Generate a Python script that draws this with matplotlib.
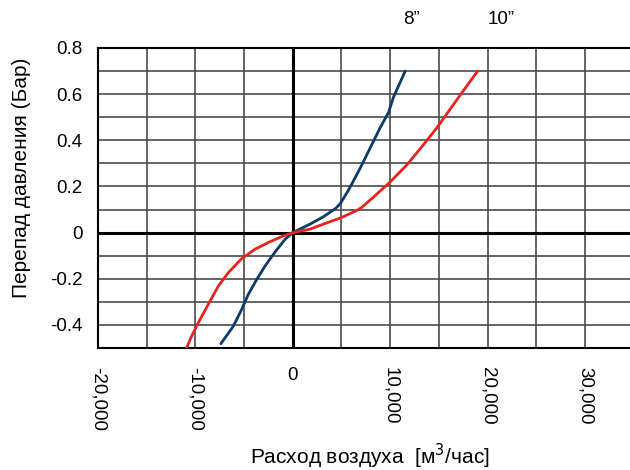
import numpy as np
import matplotlib.pyplot as plt

plt.rcParams['font.family'] = ['Liberation Sans', 'DejaVu Sans']

# 8" curve (blue)
flow_8 = [-7380, -6110, -5250, -4570, -3700, -2850, -1820, -790, 0,
          1780, 3150, 4350, 4870, 5720, 6920, 7950, 8980, 9840, 10350, 10970, 11550]
dp_8 = [-0.481, -0.406, -0.333, -0.268, -0.203, -0.145, -0.084, -0.029, 0.0,
        0.037, 0.069, 0.103, 0.125, 0.184, 0.279, 0.367, 0.455, 0.521, 0.588, 0.646, 0.70]

# 10" curve (red)
flow_10 = [-11010, -10390, -9710, -8680, -7650, -6630, -5250, -3880, -2510, -1130, 0,
           1780, 3150, 4870, 6580, 7100, 8290, 10010, 11730, 13440, 14810, 16180, 17550, 18990]
dp_10 = [-0.51, -0.449, -0.391, -0.311, -0.232, -0.174, -0.113, -0.072, -0.043, -0.017, 0.0,
         0.015, 0.037, 0.063, 0.096, 0.110, 0.154, 0.22, 0.294, 0.382, 0.455, 0.536, 0.617, 0.70]

x_ticks = [-20000, -10000, 0, 10000, 20000, 30000]
x_labels = ['-20,000', '-10,000', '0', '10,000', '20,000', '30,000']
y_ticks = [-0.4, -0.2, 0, 0.2, 0.4, 0.6, 0.8]
y_labels = ['-0.4', '-0.2', '0', '0.2', '0.4', '0.6', '0.8']

fig = plt.figure(figsize=(6.3, 4.7), dpi=100)
ax = fig.add_axes([98 / 630, 1 - 348 / 470, 532 / 630, 300 / 470])

ax.set_xlim(-20000, 34630)
ax.set_ylim(-0.5, 0.8)

# grid
for gx in np.arange(-15000, 35000, 5000):
    if gx != 0:
        ax.axvline(gx, color='#4a4a4a', lw=1.2, zorder=1)
for gy in np.arange(-0.4, 0.8, 0.1):
    if abs(gy) > 1e-9:
        ax.axhline(gy, color='#4a4a4a', lw=1.2, zorder=1)
ax.axvline(0, color='black', lw=2.2, zorder=2)
ax.axhline(0, color='black', lw=2.2, zorder=2)

ax.plot(flow_8, dp_8, color='#0b3a6b', lw=2.0, zorder=3,
        solid_capstyle='round', solid_joinstyle='round')
ax.plot(flow_10, dp_10, color='#e8231f', lw=2.0, zorder=3,
        solid_capstyle='round', solid_joinstyle='round')

for s in ['top', 'left', 'bottom']:
    ax.spines[s].set_linewidth(1.5)
    ax.spines[s].set_color('black')
ax.spines['right'].set_visible(False)

ax.set_yticks(y_ticks)
ax.set_yticklabels(y_labels, fontsize=13.5)
ax.set_xticks(x_ticks)
ax.set_xticklabels(x_labels, fontsize=13.5)
for t in ax.get_xticklabels():
    if t.get_text() != '0':
        t.set_rotation(-90)
        t.set_va('top')
        t.set_ha('center')
ax.tick_params(axis='y', length=0, pad=11)
ax.tick_params(axis='x', length=0, pad=14)

fig.text(22 / 630, 1 - 178 / 470, 'Перепад давления (Бар)', rotation=90,
         ha='center', va='center', fontsize=15)
fig.text(370 / 630, 1 - 456 / 470, 'Расход воздуха  [м$^3$/час]',
         ha='center', va='center', fontsize=15)

fig.text(411 / 630, 1 - 20 / 470, '8”', ha='center', va='center', fontsize=13.5)
fig.text(501 / 630, 1 - 20 / 470, '10”', ha='center', va='center', fontsize=13.5)

fig.savefig('out.png', dpi=100)
